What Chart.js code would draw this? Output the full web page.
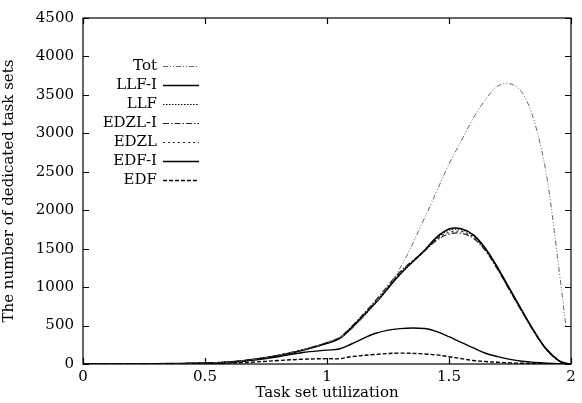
<!DOCTYPE html>
<html>
<head>
<meta charset="utf-8">
<script src="https://cdn.jsdelivr.net/npm/chart.js@4"></script>
<style>
  html, body { margin: 0; padding: 0; background: #fff; }
  #wrap { width: 582px; height: 403px; }
</style>
</head>
<body>
<div id="wrap"><canvas id="myChart" width="582" height="403"></canvas></div>
<script>
// utilizações (eixo x)
var utilizacao = [0, 0.1, 0.2, 0.3, 0.4, 0.5, 0.6, 0.7, 0.8, 0.9, 1.0, 1.05, 1.1, 1.2, 1.3, 1.4, 1.45, 1.5, 1.55, 1.6, 1.65, 1.7, 1.75, 1.8, 1.85, 1.9, 1.95, 1.98, 2.0];

var tot    = [0, 0, 1, 3, 6, 12, 25, 60, 115, 185, 280, 340, 450, 800, 1250, 1900, 2250, 2600, 2900, 3200, 3440, 3615, 3645, 3530, 3150, 2450, 1250, 470, null];
var llfI   = [0, 0, 1, 3, 6, 12, 25, 60, 110, 180, 270, 330, 470, 800, 1170, 1480, 1650, 1755, 1760, 1680, 1500, 1250, 970, 690, 420, 190, 45, 8, 0];
var llf    = [0, 0, 1, 3, 6, 12, 25, 58, 108, 178, 268, 328, 465, 795, 1165, 1470, 1635, 1740, 1748, 1668, 1490, 1240, 960, 682, 415, 186, 43, 7, 0];
var edzlI  = [0, 0, 1, 3, 6, 12, 26, 62, 115, 185, 280, 345, 485, 830, 1200, 1470, 1610, 1690, 1700, 1635, 1470, 1225, 950, 675, 410, 185, 42, 7, 0];
var edzl   = [0, 0, 1, 3, 6, 12, 25, 60, 112, 182, 275, 335, 475, 815, 1185, 1475, 1622, 1712, 1725, 1655, 1480, 1235, 958, 680, 415, 188, 44, 7, 0];
var edfI   = [0, 0, 0, 2, 5, 10, 22, 50, 95, 150, 180, 195, 260, 400, 460, 462, 420, 355, 280, 210, 140, 95, 60, 35, 20, 10, 3, 1, 0];
var edf    = [0, 0, 0, 1, 3, 6, 12, 25, 45, 62, 70, 68, 95, 125, 142, 130, 118, 95, 70, 45, 32, 22, 15, 9, 5, 3, 1, 0, 0];

var nomes = ['Tot', 'LLF-I', 'LLF', 'EDZL-I', 'EDZL', 'EDF-I', 'EDF'];

var fonte = "'DejaVu Serif', serif";

function pontos(serie) {
    return utilizacao.map(function (u, i) { return { x: u, y: serie[i] }; });
}

function conjunto(nome, serie, cor, largura, traco) {
    return {
        label: nome,
        data: pontos(serie),
        borderColor: cor,
        borderWidth: largura,
        borderDash: traco,
        pointRadius: 0,
        fill: false,
        tension: 0.35,
        spanGaps: false
    };
}

// legenda no estilo gnuplot: texto à direita, amostra da linha ao lado
var legendaPlugin = {
    id: 'legendaGnuplot',
    afterDraw: function (chart) {
        var ctx = chart.ctx;
        var area = chart.chartArea;
        var xTexto = area.left + 74;
        var x0 = area.left + 80, x1 = area.left + 116;
        ctx.save();
        ctx.font = '15px ' + fonte;
        ctx.textAlign = 'right';
        ctx.textBaseline = 'middle';
        chart.data.datasets.forEach(function (ds, i) {
            var y = area.top + 48 + i * 19;
            ctx.fillStyle = '#000';
            ctx.fillText(ds.label, xTexto, y);
            ctx.beginPath();
            ctx.strokeStyle = ds.borderColor;
            ctx.lineWidth = ds.borderWidth;
            ctx.setLineDash(ds.borderDash || []);
            ctx.moveTo(x0, y + 0.5);
            ctx.lineTo(x1, y + 0.5);
            ctx.stroke();
        });
        ctx.restore();
    }
};

// moldura e marcas internas nos quatro lados
var molduraPlugin = {
    id: 'moldura',
    afterDraw: function (chart) {
        var ctx = chart.ctx;
        var area = chart.chartArea;
        var sx = chart.scales.x, sy = chart.scales.y;
        var t = 6;
        ctx.save();
        ctx.strokeStyle = '#000';
        ctx.lineWidth = 1.2;
        ctx.setLineDash([]);
        ctx.strokeRect(area.left, area.top, area.right - area.left, area.bottom - area.top);
        ctx.beginPath();
        sx.ticks.forEach(function (tk) {
            var x = Math.round(sx.getPixelForValue(tk.value)) + 0.5;
            ctx.moveTo(x, area.bottom); ctx.lineTo(x, area.bottom - t);
            ctx.moveTo(x, area.top); ctx.lineTo(x, area.top + t);
        });
        sy.ticks.forEach(function (tk) {
            var y = Math.round(sy.getPixelForValue(tk.value)) + 0.5;
            ctx.moveTo(area.left, y); ctx.lineTo(area.left + t, y);
            ctx.moveTo(area.right, y); ctx.lineTo(area.right - t, y);
        });
        ctx.stroke();
        ctx.restore();
    }
};

var ctx = document.getElementById('myChart').getContext('2d');
var myChart = new Chart(ctx, {
    type: 'line',
    data: {
        datasets: [
            conjunto(nomes[0], tot, '#666', 1, [5, 2, 1, 2, 1, 2]),
            conjunto(nomes[1], llfI, '#000', 1.6, []),
            conjunto(nomes[2], llf, '#000', 1.2, [1.5, 1.5]),
            conjunto(nomes[3], edzlI, '#222', 1.2, [6, 2, 1.5, 2]),
            conjunto(nomes[4], edzl, '#222', 1.2, [2, 3]),
            conjunto(nomes[5], edfI, '#000', 1.4, []),
            conjunto(nomes[6], edf, '#000', 1.4, [4, 2])
        ]
    },
    options: {
        responsive: false,
        animation: false,
        layout: { padding: { top: 14, right: 11, left: 0, bottom: 0 } },
        plugins: {
            legend: { display: false },
            tooltip: { enabled: false }
        },
        scales: {
            x: {
                type: 'linear',
                min: 0,
                max: 2,
                afterFit: function (scale) { scale.height = 39; },
                grid: { display: false, drawTicks: false },
                border: { display: false },
                ticks: {
                    stepSize: 0.5,
                    padding: 4,
                    color: '#000',
                    font: { family: fonte, size: 15 },
                    maxRotation: 0,
                    callback: function (v) { return String(v); }
                },
                title: {
                    display: true,
                    text: 'Task set utilization',
                    color: '#000',
                    font: { family: fonte, size: 15 },
                    padding: { top: 0, bottom: 1 }
                }
            },
            y: {
                min: 0,
                max: 4500,
                afterFit: function (scale) { scale.width = 83; },
                grid: { display: false, drawTicks: false },
                border: { display: false },
                ticks: {
                    stepSize: 500,
                    padding: 9,
                    color: '#000',
                    font: { family: fonte, size: 15 },
                    callback: function (v) { return String(v); }
                },
                title: {
                    display: true,
                    text: 'The number of dedicated task sets',
                    color: '#000',
                    font: { family: fonte, size: 15 },
                    padding: { top: 0, bottom: 0 }
                }
            }
        }
    },
    plugins: [molduraPlugin, legendaPlugin]
});
</script>
</body>
</html>
